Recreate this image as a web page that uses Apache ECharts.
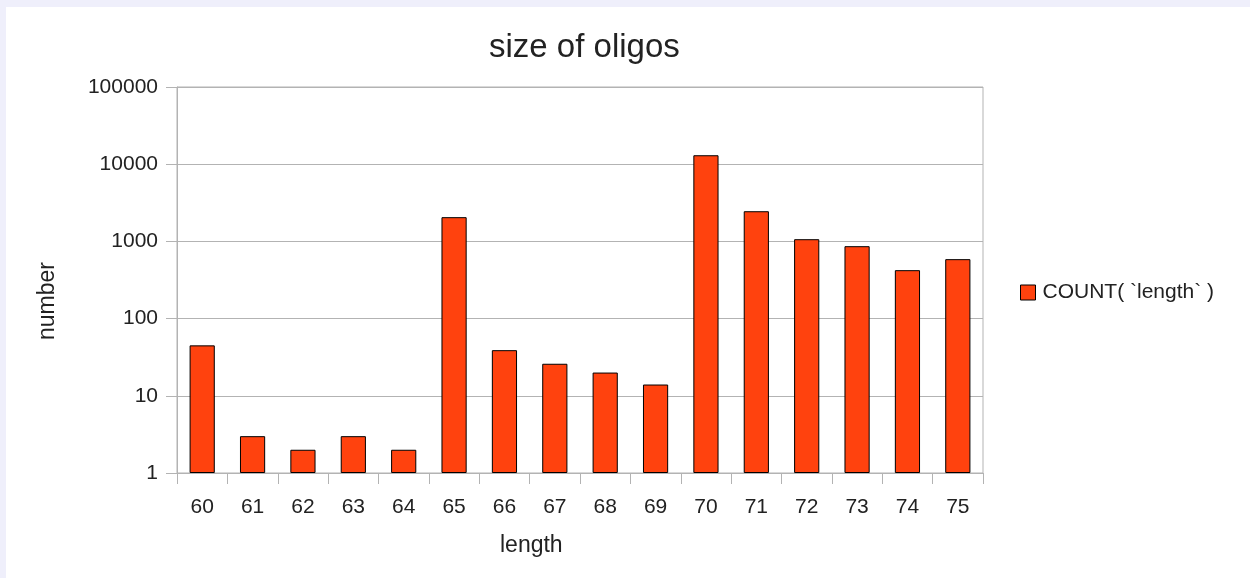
<!DOCTYPE html>
<html>
<head>
<meta charset="utf-8">
<script src="https://cdn.jsdelivr.net/npm/echarts@6/dist/echarts.min.js"></script>
<style>
  html, body { margin: 0; padding: 0; background: #efeffb; width: 1250px; height: 578px; overflow: hidden; }
  #paper { position: absolute; left: 6px; top: 7px; right: 0; bottom: 0; background: #ffffff; }
  #chart { position: absolute; left: 0; top: 0; width: 1250px; height: 578px; }
</style>
</head>
<body>
<div id="paper"></div>
<div id="chart"></div>
<script>
const titleText = 'size of oligos';
const seriesName = 'COUNT( `length` )';
const categories = ['60','61','62','63','64','65','66','67','68','69','70','71','72','73','74','75'];
const counts = [45, 3, 2, 3, 2, 2060, 39, 26, 20, 14, 13060, 2460, 1068, 867, 424, 589];
const xName = 'length';
const yName = 'number';

const font = 'Liberation Sans, Arial, sans-serif';
const textColor = '#222222';
const gridColor = '#b3b3b3';

const chart = echarts.init(document.getElementById('chart'), null, { renderer: 'canvas' });
chart.setOption({
  backgroundColor: 'transparent',
  animation: false,
  textStyle: { fontFamily: font },
  title: {
    text: titleText,
    left: 489,
    top: 31,
    padding: 0,
    textStyle: { fontFamily: font, fontSize: 33, fontWeight: 'normal', color: textColor }
  },
  legend: {
    orient: 'vertical',
    left: 1020,
    top: 282,
    padding: 0,
    itemWidth: 15,
    itemHeight: 15,
    icon: 'rect',
    itemStyle: { borderColor: '#000', borderWidth: 1 },
    textStyle: { fontFamily: font, fontSize: 21, color: textColor, padding: [0, 0, 0, 2] },
    data: [seriesName]
  },
  grid: {
    left: 177, top: 87, width: 806, height: 386,
    show: true, borderColor: gridColor, borderWidth: 1, backgroundColor: 'transparent'
  },
  xAxis: {
    type: 'category',
    data: categories,
    axisLine: { lineStyle: { color: gridColor, width: 1 } },
    axisTick: { show: true, length: 11, lineStyle: { color: gridColor } },
    axisLabel: { fontFamily: font, fontSize: 21, color: textColor, margin: 24 },
    splitLine: { show: false }
  },
  yAxis: {
    type: 'log',
    logBase: 10,
    min: 1,
    max: 100000,
    axisLine: { show: true, lineStyle: { color: gridColor, width: 1 } },
    axisTick: { show: true, length: 11, lineStyle: { color: gridColor } },
    axisLabel: {
      fontFamily: font, fontSize: 21, color: textColor, margin: 19,
      formatter: function (v) { return String(Math.round(v)); }
    },
    splitLine: { show: true, lineStyle: { color: gridColor, width: 1 } },
    minorTick: { show: false }
  },
  graphic: [
    {
      type: 'text',
      left: 500, top: 534,
      style: { text: xName, font: '23px ' + font, fill: textColor }
    },
    {
      type: 'text',
      x: 48, y: 301,
      rotation: Math.PI / 2,
      style: { text: yName, font: '23px ' + font, fill: textColor, align: 'center', verticalAlign: 'middle' }
    }
  ],
  series: [{
    name: seriesName,
    type: 'bar',
    data: counts,
    barWidth: '50%',
    itemStyle: { color: '#ff420e', borderColor: '#000000', borderWidth: 1 }
  }]
});
</script>
</body>
</html>
